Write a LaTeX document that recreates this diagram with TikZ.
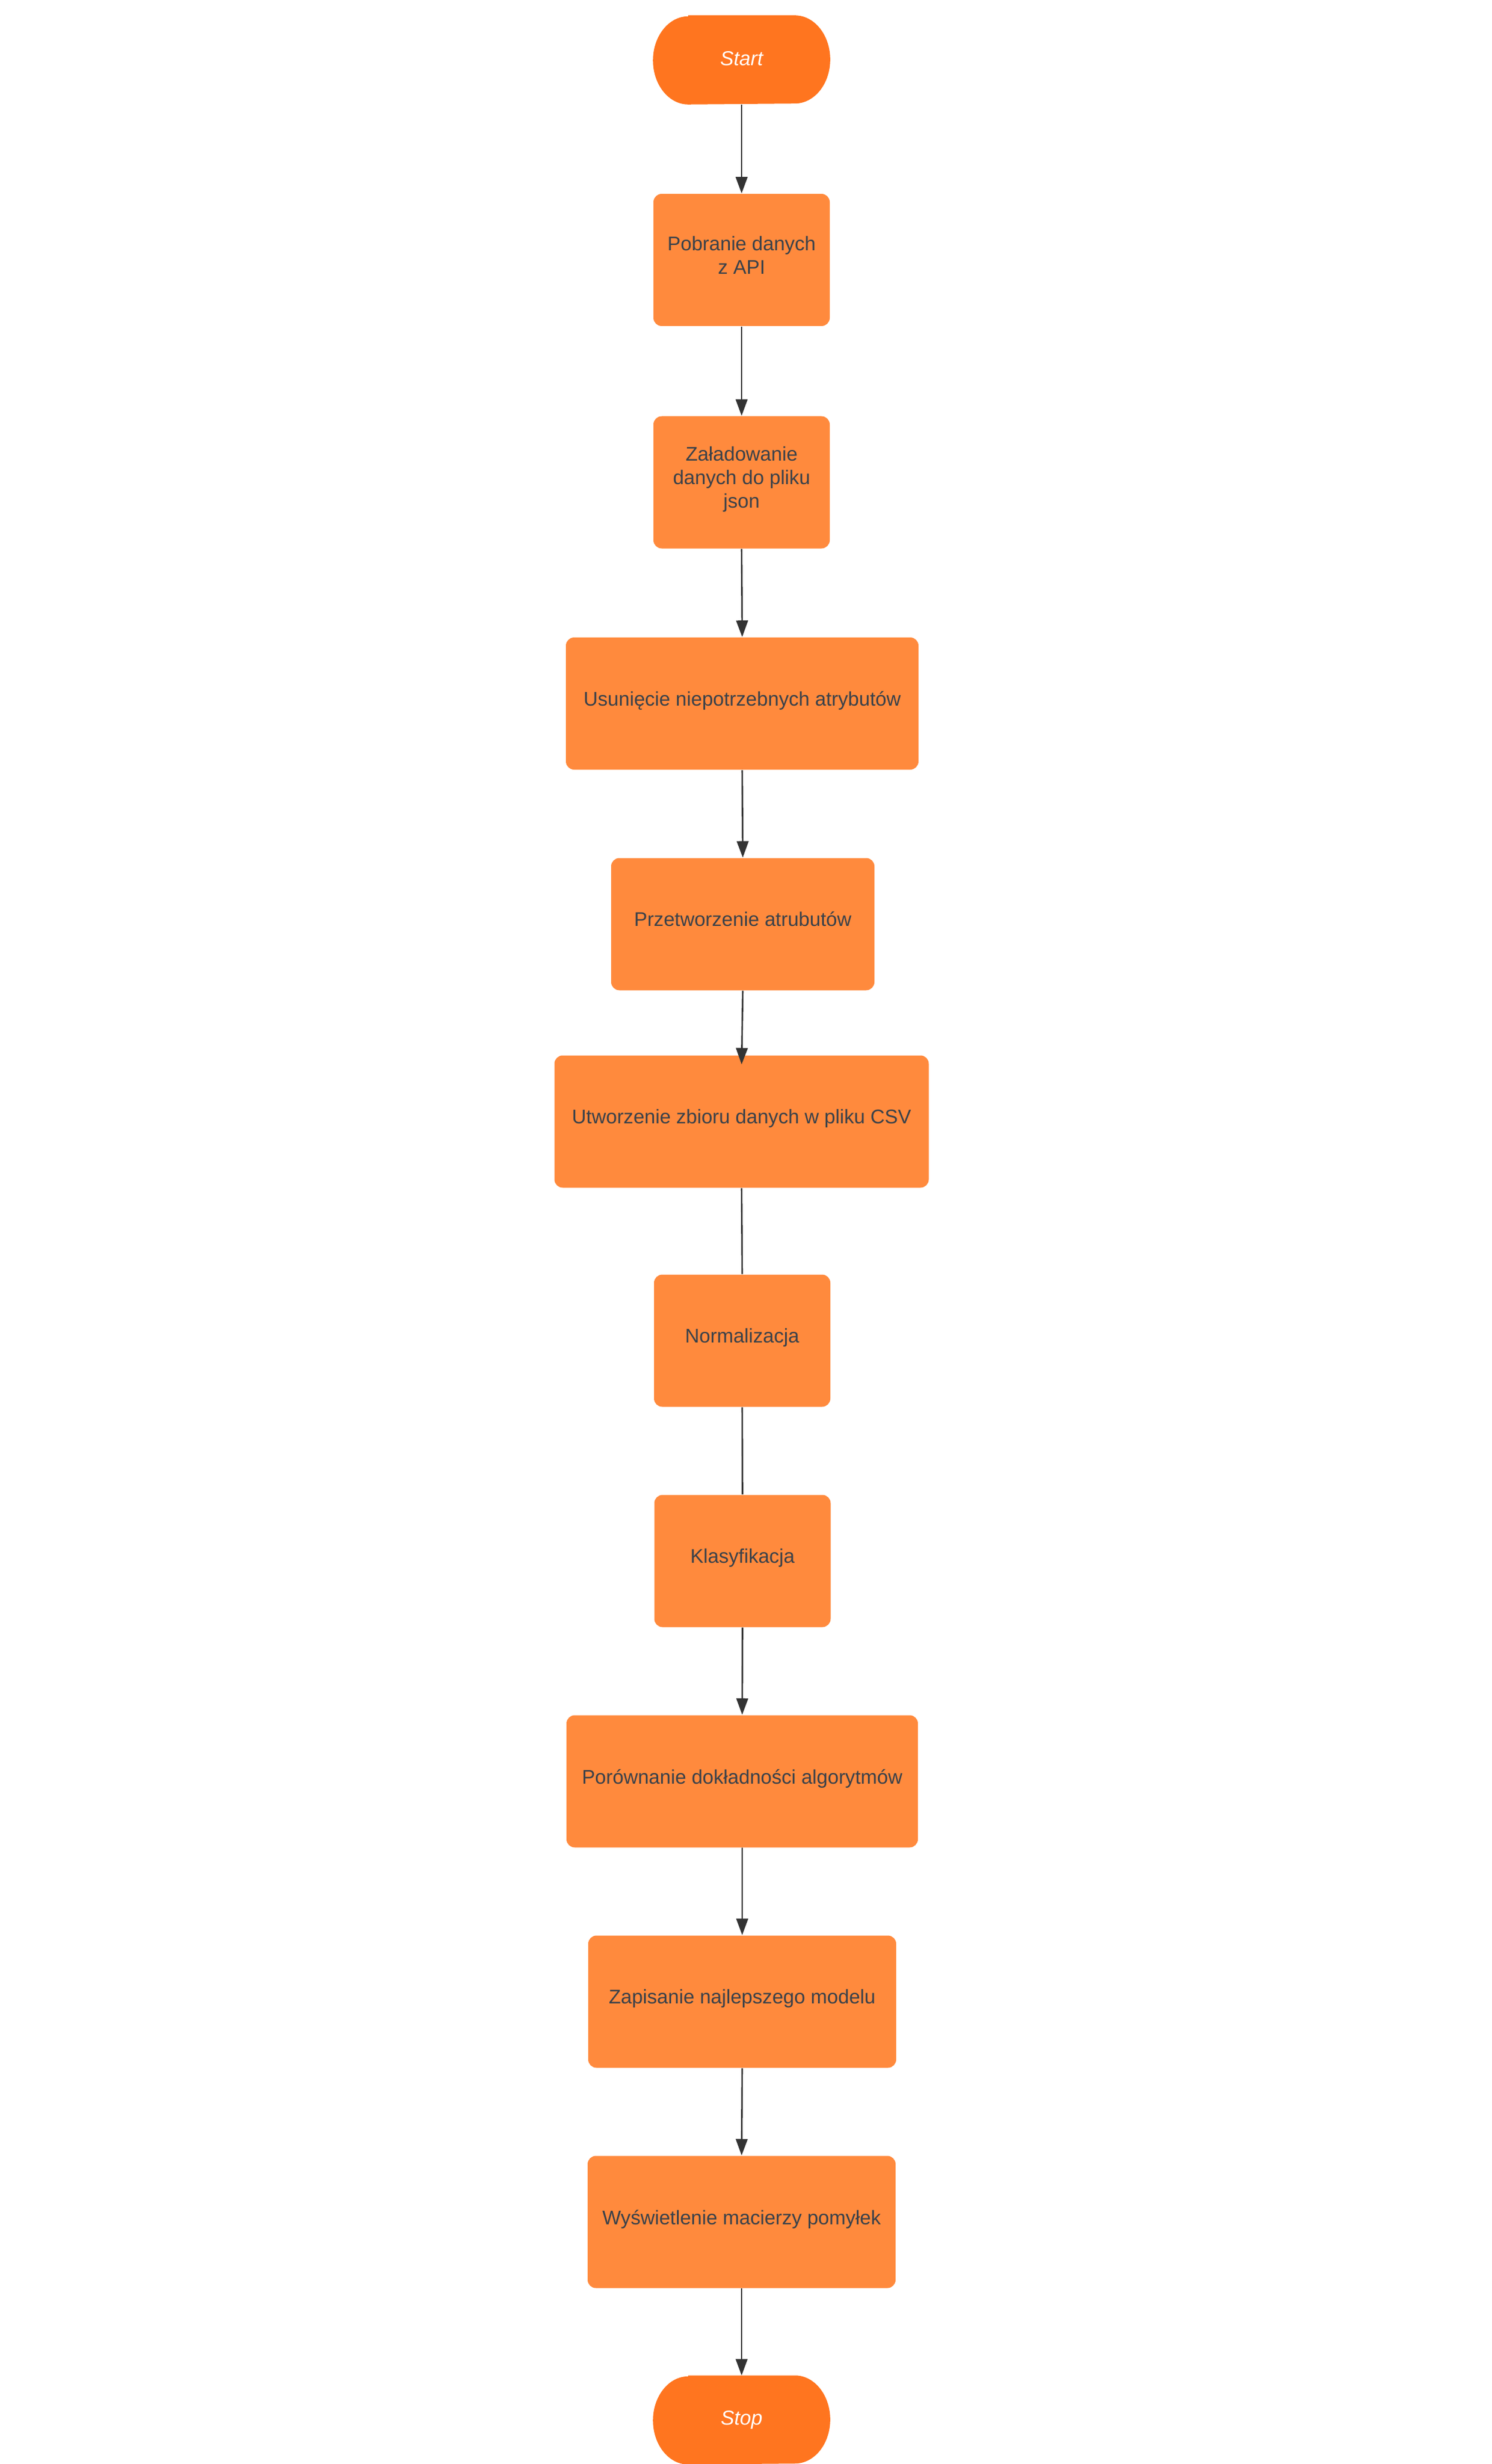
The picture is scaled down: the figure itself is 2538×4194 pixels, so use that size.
\documentclass[tikz,border=0pt]{standalone}
\usepackage{fontspec}
\setmainfont{Liberation Sans}
\usetikzlibrary{arrows.meta}
\definecolor{boxc}{RGB}{255,138,61}
\definecolor{termc}{RGB}{255,117,31}
\definecolor{txtc}{RGB}{58,65,74}
\definecolor{linec}{RGB}{51,51,51}
\begin{document}
\begin{tikzpicture}[x=0.25pt,y=-0.25pt,
  proc/.style={rectangle, rounded corners=3.5pt, fill=boxc, text=txtc,
    font=\fontsize{8.4}{10}\selectfont, align=center, inner sep=0pt,
    minimum height=56.25pt, text depth=4.2pt},
  term/.style={rectangle, inner sep=0pt, minimum width=75pt, minimum height=37.5pt,
    text=white, font=\fontsize{8.6}{10}\selectfont\itshape},
  conn/.style={draw=linec, line width=0.65pt},
  arr/.style={conn, -{Triangle[width=5pt,length=7pt]}}
]
\fill[white] (0,0) rectangle (2538,4194);
\useasboundingbox (0,0) rectangle (2538,4194);

\newcommand{\termshape}[1]{%
  \fill[termc] ([xshift=15pt]#1.north west) -- ([xshift=-15pt]#1.north east)
    arc[start angle=90,end angle=-90,x radius=15pt,y radius=18.75pt]
    -- ([xshift=15pt]#1.south west)
    arc[start angle=270,end angle=90,x radius=15pt,y radius=18.75pt] -- cycle;}

\node[term] (start) at (1262,102) {};
\termshape{start}
\node[term, yshift=0.6pt] at (start.center) {Start};

\node[proc, minimum width=75pt] (pob) at (1262,442.5) {Pobranie danych\\z API};
\node[proc, minimum width=75pt] (zal) at (1262,821) {Załadowanie\\danych do pliku\\json};
\node[proc, minimum width=150pt] (usu) at (1263,1197.5) {Usunięcie niepotrzebnych atrybutów};
\node[proc, minimum width=112pt] (prz) at (1264,1573) {Przetworzenie atrubutów};
\node[proc, minimum width=159.25pt] (utw) at (1262,1909) {Utworzenie zbioru danych w pliku CSV};
\node[proc, minimum width=75pt] (nor) at (1263,2282) {Normalizacja};
\node[proc, minimum width=75pt] (kla) at (1263.5,2657) {Klasyfikacja};
\node[proc, minimum width=149.5pt] (por) at (1263,3032) {Porównanie dokładności algorytmów};
\node[proc, minimum width=131pt] (zap) at (1263,3407) {Zapisanie najlepszego modelu};
\node[proc, minimum width=131pt] (wys) at (1262,3782) {Wyświetlenie macierzy pomyłek};

\node[term] (stop) at (1262,4119) {};
\termshape{stop}
\node[term] at (stop.center) {Stop};

\draw[arr] (start.south) -- (pob.north);
\draw[arr] (pob.south) -- (zal.north);
\draw[arr] (zal.south) -- (usu.north);
\draw[arr] (usu.south) -- (prz.north);
\draw[arr] (prz.south) -- ([yshift=-4pt]utw.north);
\draw[conn] (utw.south) -- (nor.north);
\draw[conn] (nor.south) -- (kla.north);
\draw[arr] (kla.south) -- (por.north);
\draw[arr] (por.south) -- (zap.north);
\draw[arr] (zap.south) -- (wys.north);
\draw[arr] (wys.south) -- (stop.north);
\end{tikzpicture}
\end{document}
